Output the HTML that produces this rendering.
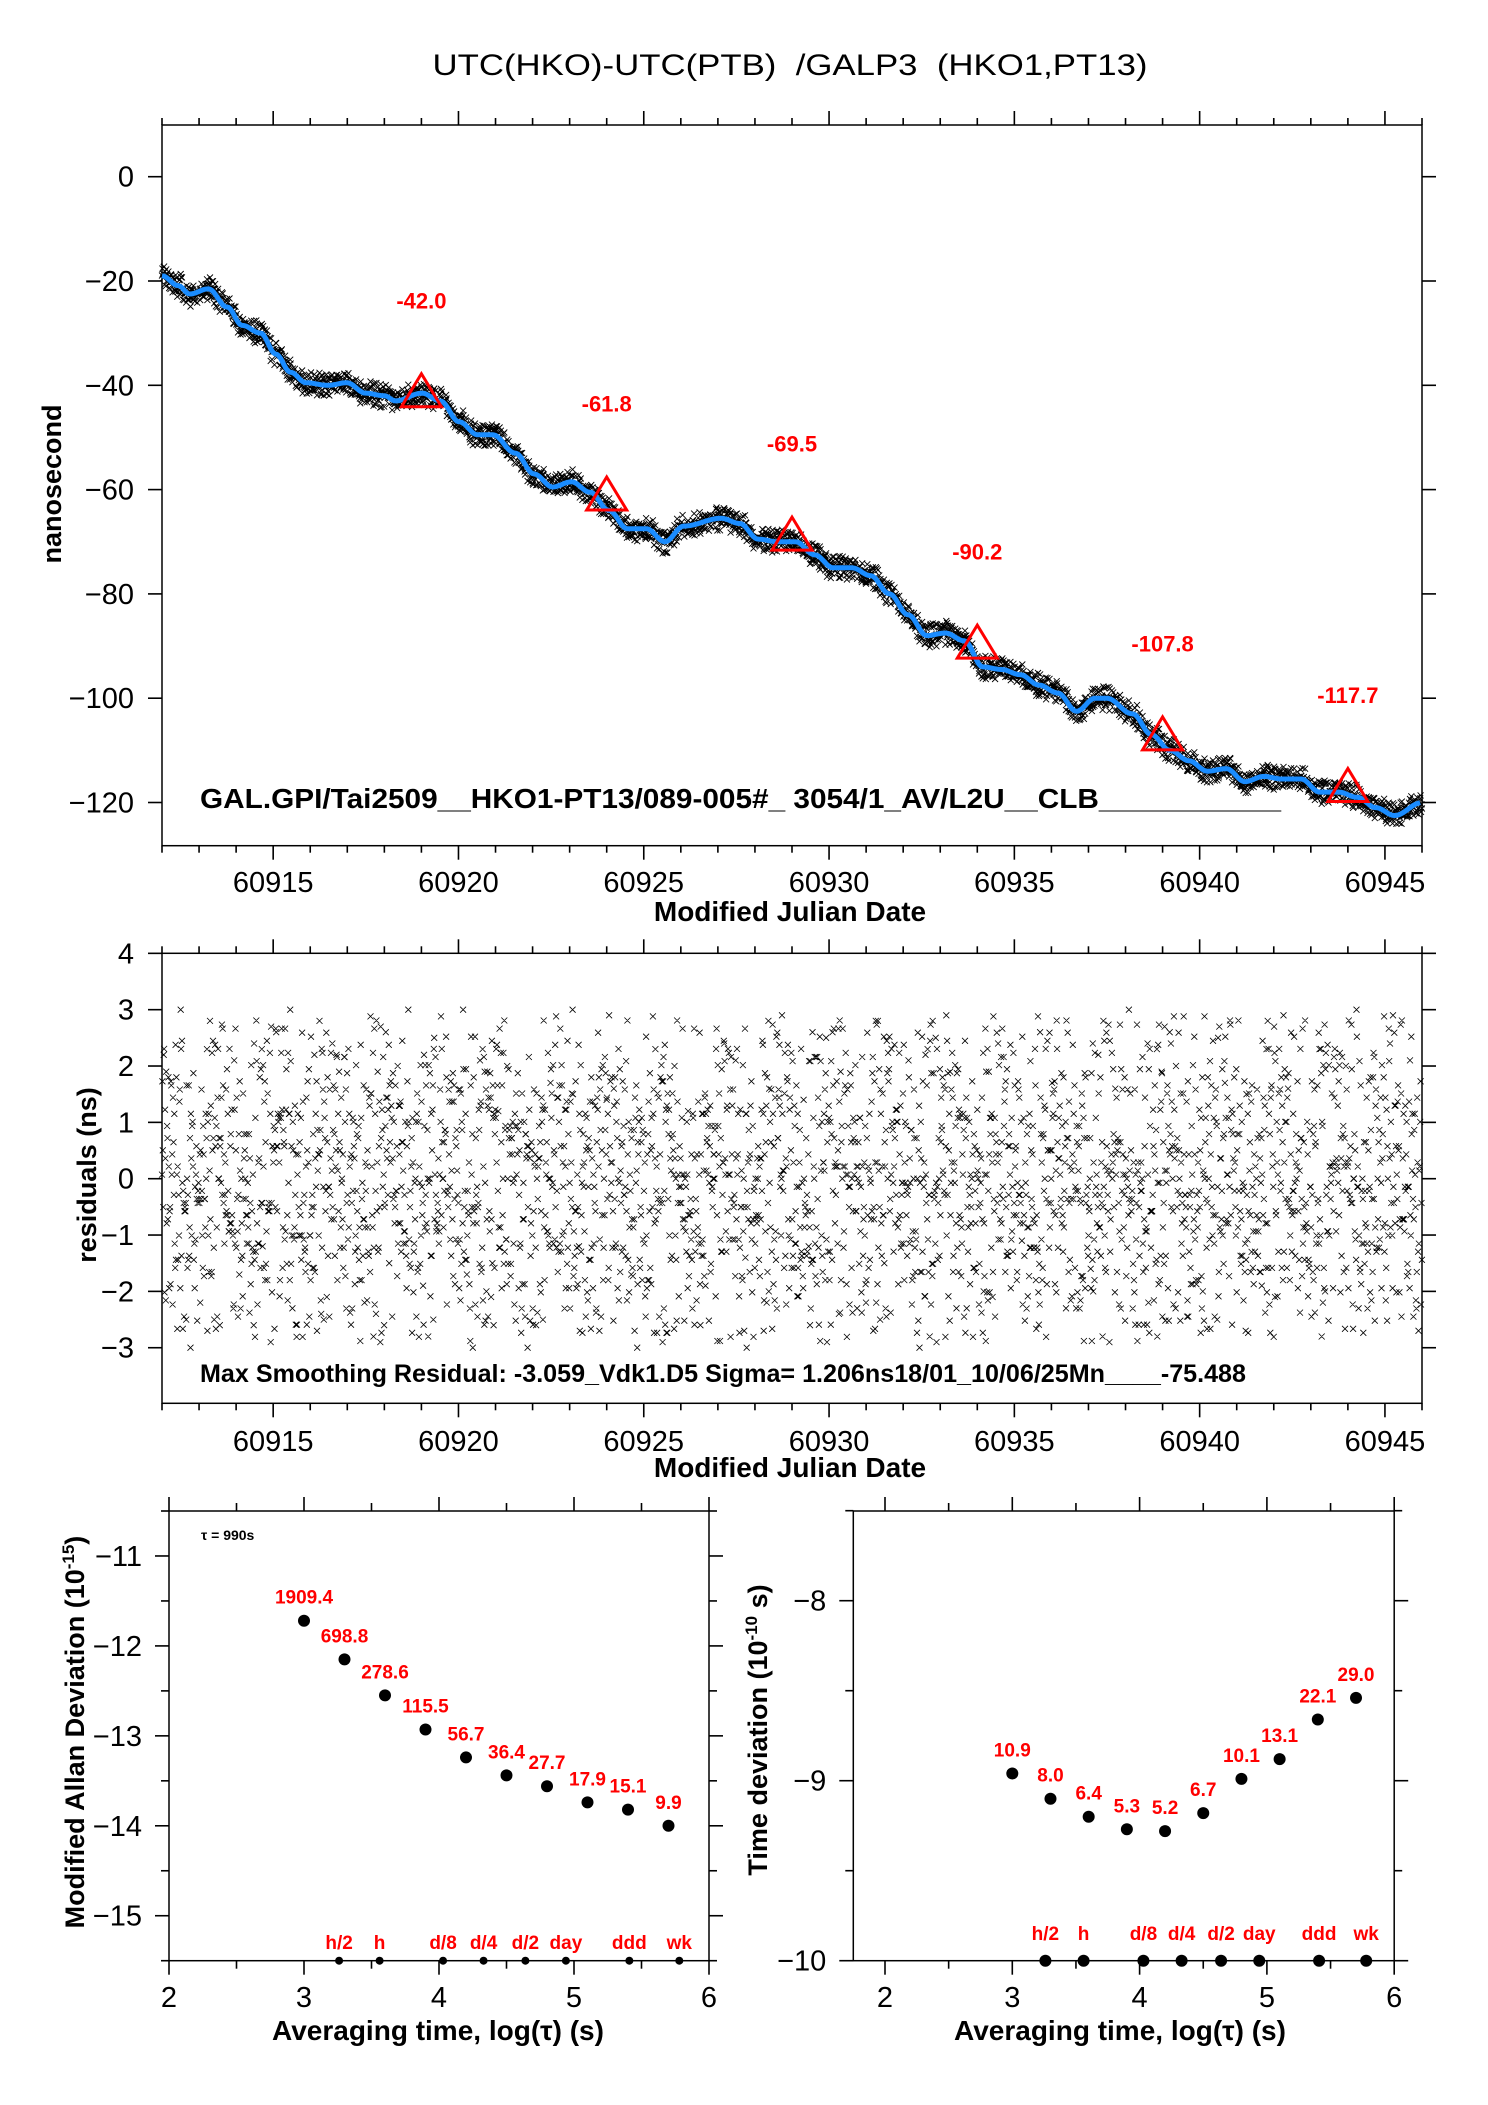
<!DOCTYPE html>
<html><head><meta charset="utf-8"><style>
html,body{margin:0;padding:0;background:#fff}
svg{display:block;font-family:"Liberation Sans",sans-serif}
</style></head><body>
<svg id="c" width="1488" height="2105" viewBox="0 0 1488 2105" xmlns="http://www.w3.org/2000/svg">
<text x="790" y="75" font-size="30" text-anchor="middle" textLength="715" lengthAdjust="spacingAndGlyphs" xml:space="preserve">UTC(HKO)-UTC(PTB)  /GALP3  (HKO1,PT13)</text>
<g id="g"></g>
</svg>
<script>
// ---- data ----
const curveMjd = [60912.0,60912.44,60912.75,60913.25,60913.76,60914.16,60914.66,60915.07,60915.47,60915.88,60916.48,60916.99,60917.49,60918.00,60918.30,60919.01,60919.51,60920.02,60920.52,60920.93,60921.53,60922.04,60922.54,60923.05,60923.55,60924.06,60924.56,60925.07,60925.57,60926.08,60927.09,60927.59,60928.09,60928.60,60929.10,60929.61,60930.11,60930.62,60931.12,60931.63,60932.13,60932.64,60933.14,60933.65,60934.15,60934.66,60935.16,60935.67,60936.17,60936.68,60937.18,60937.49,60938.19,60938.70,60939.20,60939.71,60940.21,60940.72,60941.22,60941.73,60942.23,60942.74,60943.24,60943.75,60944.25,60944.76,60945.26,60946.0];
const curveNs = [-19,-20.9,-22.5,-21.5,-25,-28.5,-30,-34,-37.5,-39.5,-40,-39.5,-41.5,-42,-43,-41.5,-43,-47,-49.5,-49.5,-53,-57,-59.5,-58.5,-60.5,-64,-67.5,-67.5,-70,-67,-65.5,-66.5,-69.5,-70,-70,-72.5,-75,-75,-76.5,-80,-84,-88,-87.5,-89,-94,-94.5,-95.5,-97.5,-99,-102.5,-100,-100,-103,-107,-110,-112,-114,-113.5,-116,-115,-115.5,-115.5,-118,-118,-119,-121,-122.5,-120];
const triMjd = [60919,60924,60929,60934,60939,60944];
const triNs = [-42.0,-61.8,-69.5,-90.2,-107.8,-117.7];
const triLabels = ["-42.0","-61.8","-69.5","-90.2","-107.8","-117.7"];
const residuals = [0.4,-1.2,2.1,-0.3,1.5,-2.2,0.8,-0.9,0.1,1.9,-1.6,0.6,-2.7,1.1,-0.4,2.6,-1.0,0.3,-1.8,1.3,0.0,-0.6,2.3,-2.4,0.9,-1.4,1.7,-0.2,0.5,-2.9,1.0,-0.8,2.8,-1.1,0.2,-1.9,1.4,-0.5,0.7,-2.1,2.0,-0.1,-1.3,1.6,-2.5,0.3,1.2,-0.7,2.4,-1.5,0.6,-0.3,-2.0,1.8,-1.0,0.4,2.9,-1.7,0.1,-2.6,1.1,-0.9,0.8,-0.2,1.5,-1.2,2.2,-2.3,0.0,1.0,-0.6,-1.4,2.5,-0.4,0.9,-2.8,1.3,-1.1,0.2,1.7,-0.8,-1.6,2.7,-0.1,0.5,-2.2,1.9,-0.5,-1.0,0.6,2.1,-1.9,0.3,-0.7,1.4,-2.4,0.8,1.2,-0.3,-1.5,3.0,-2.0,0.1,0.7,-1.3,1.6,-0.9,-2.7,2.3,-0.2,0.4,-1.8,1.1,0.9,-0.6,-2.5,2.0,-1.4,0.2,1.8,-1.1,-0.4,2.6,-2.1,0.5,-0.8,1.3,-3.0,0.6,1.5,-1.7,0.0,2.4,-0.5,-1.2,1.0,-2.3,0.3,1.9,-0.9,-1.6,2.2,-0.1,0.7,-2.6,1.2,-0.3,-1.0,2.8];
const mdevX = [3,3.3,3.6,3.9,4.2,4.5,4.8,5.1,5.4,5.7];
const mdevY = [-11.72,-12.15,-12.55,-12.93,-13.24,-13.44,-13.56,-13.74,-13.82,-14.0];
const mdevLabels = ["1909.4","698.8","278.6","115.5","56.7","36.4","27.7","17.9","15.1","9.9"];
const tdevX = [3,3.3,3.6,3.9,4.2,4.5,4.8,5.1,5.4,5.7];
const tdevY = [-8.96,-9.1,-9.2,-9.27,-9.28,-9.18,-8.99,-8.88,-8.66,-8.54];
const tdevLabels = ["10.9","8.0","6.4","5.3","5.2","6.7","10.1","13.1","22.1","29.0"];
const markX = [3.26,3.56,4.03,4.33,4.64,4.94,5.41,5.78];
const markLabels = ["h/2","h","d/8","d/4","d/2","day","ddd","wk"];
const xTicksMjd = [60915,60920,60925,60930,60935,60940,60945];
const yTicksTop = [0,-20,-40,-60,-80,-100,-120];
const yTicksRes = [4,3,2,1,0,-1,-2,-3];
const yTicksMdev = [-11,-12,-13,-14,-15];
const yTicksTdev = [-8,-9,-10];
const xTicksLog = [2,3,4,5,6];

const NS="http://www.w3.org/2000/svg";
const G=document.getElementById('g');
function mk(tag,at,parent){const e=document.createElementNS(NS,tag);for(const k in at)e.setAttribute(k,at[k]);(parent||G).appendChild(e);return e;}
function txt(s,x,y,sz,at){const e=mk('text',Object.assign({x:x,y:y,'font-size':sz},at||{}));e.textContent=s;return e;}
function minus(v){return String(v).replace('-','\u2212');}

const X1=162,X2=1422,M0=60912,M1=60946;
const mx=m=>X1+(m-M0)/(M1-M0)*(X2-X1);
const T1=125,B1=845.7; const ty=v=>176.7-v*5.215;
const T2=953.3,B2=1403.3; const ry=v=>1178.7-v*56.34;
const lx=v=>169+(v-2)*135; const LX1=169,LX2=709; const LT=1511,LB=1960.7; const ly=v=>1960.7-(v+15.5)*89.94;
const rx=v=>885+(v-2)*127.3; const RX1=853.3,RX2=1394.2; const RT=1511,RB=1960.7; const rly=v=>1960.7-(v+10)*180;

function frame(x1,y1,x2,y2,name){const r=mk('rect',{x:x1,y:y1,width:x2-x1,height:y2-y1,fill:'none',stroke:'#000','stroke-width':1.5});}
function line(x1,y1,x2,y2,w){return mk('line',{x1:x1,y1:y1,x2:x2,y2:y2,stroke:'#000','stroke-width':w||1.6});}

// ---------- top plot ----------
frame(X1,T1,X2,B1,'top-plot-frame');
for(let d=60912;d<=60946;d++){const x=mx(d);const maj=(d%5===0);const L=maj?14:7;line(x,T1,x,T1-L);line(x,B1,x,B1+L);}
xTicksMjd.forEach(d=>{const t=txt(String(d),mx(d),892,29,{'text-anchor':'middle'});});
yTicksTop.forEach(v=>{const y=ty(v);line(X1-14,y,X1,y);line(X2,y,X2+14,y);const t=txt(minus(v),X1-28,y+10,29,{'text-anchor':'end'});});
function curveAt(m){for(let i=0;i<curveMjd.length-1;i++){if(m<=curveMjd[i+1]){const f=(m-curveMjd[i])/(curveMjd[i+1]-curveMjd[i]);const a=curveNs[i],b=curveNs[i+1];const s=(1-Math.cos(Math.PI*f))/2;return a+(b-a)*s;}}return curveNs[curveNs.length-1];}
const step=990/86400; let p1='',p2=''; const nR=residuals.length;
let i=0;
for(let m=M0;m<=M1;m+=step,i++){
  const cyc=Math.floor(i/nR);
  let r=0.72*residuals[(i*37)%nR]+0.72*residuals[(i*53+cyc*17+3)%nR];
  if(Math.abs(r)>2.9) r=residuals[(i*53+cyc*17+3)%nR];
  const x=mx(m);
  const yt=ty(curveAt(m)+r*0.8);
  p1+=`M${(x-3).toFixed(1)} ${(yt-3).toFixed(1)}l6 6M${(x-3).toFixed(1)} ${(yt+3).toFixed(1)}l6 -6`;
  const yr=ry(r);
  p2+=`M${(x-3).toFixed(1)} ${(yr-3).toFixed(1)}l6 6M${(x-3).toFixed(1)} ${(yr+3).toFixed(1)}l6 -6`;
}
const sc1=mk('path',{d:p1,stroke:'#000','stroke-width':0.9,fill:'none'});


let cd='';for(let m=M0;m<=M1;m+=0.05){cd+=(cd?'L':'M')+mx(m).toFixed(1)+' '+ty(curveAt(m)).toFixed(1);}
const cv=mk('path',{d:cd,stroke:'#1a8cff','stroke-width':5,fill:'none','stroke-linejoin':'round'});


triMjd.forEach((m,k)=>{const x=mx(m),y=ty(triNs[k]);
  const t=mk('path',{d:`M${x} ${y-22}L${x+20} ${y+11}L${x-20} ${y+11}Z`,fill:'none',stroke:'#ff0000','stroke-width':3});
  
  const l=txt(triLabels[k],x,ty(triNs[k]+18.3)+8,22,{'text-anchor':'middle','font-weight':'bold',fill:'#ff0000'});
  });
let t0=txt('GAL.GPI/Tai2509__HKO1-PT13/089-005#_  3054/1_AV/L2U__CLB___________',200,808,28,{'font-weight':'bold',textLength:1081,lengthAdjust:'spacingAndGlyphs','xml:space':'preserve'});

t0=txt('nanosecond',0,0,27,{'font-weight':'bold','text-anchor':'middle',transform:'translate(61,484) rotate(-90)'});

t0=txt('Modified Julian Date',790,921,28,{'font-weight':'bold','text-anchor':'middle'});


// ---------- residual plot ----------
frame(X1,T2,X2,B2,'residual-plot-frame');
for(let d=60912;d<=60946;d++){const x=mx(d);const maj=(d%5===0);const L=maj?14:7;line(x,T2,x,T2-L);line(x,B2,x,B2+L);}
xTicksMjd.forEach(d=>{const t=txt(String(d),mx(d),1451,29,{'text-anchor':'middle'});});
yTicksRes.forEach(v=>{const y=ry(v);line(X1-14,y,X1,y);line(X2,y,X2+14,y);const t=txt(minus(v),X1-28,y+10,29,{'text-anchor':'end'});});
const sc2=mk('path',{d:p2,stroke:'#000','stroke-width':0.8,fill:'none'});


t0=txt('Max Smoothing Residual: -3.059_Vdk1.D5  Sigma= 1.206ns18/01_10/06/25Mn____-75.488',200,1382,25,{'font-weight':'bold',textLength:1046,lengthAdjust:'spacingAndGlyphs','xml:space':'preserve'});

t0=txt('residuals (ns)',0,0,27,{'font-weight':'bold','text-anchor':'middle',transform:'translate(96,1175) rotate(-90)'});

t0=txt('Modified Julian Date',790,1477,28,{'font-weight':'bold','text-anchor':'middle'});


// ---------- MDEV plot ----------
frame(LX1,LT,LX2,LB,'mdev-plot-frame');
for(let v=2;v<=6.001;v+=0.5){const x=lx(v);const L=(v%1===0?14:8);line(x,LT,x,LT-L);line(x,LB,x,LB+L);}
for(let v=-10.5;v>=-15.5;v-=0.5){const y=ly(v);const L=(v%1===0)?14:8;line(LX1-L,y,LX1,y);line(LX2,y,LX2+L,y);}
xTicksLog.forEach(v=>{const t=txt(String(v),lx(v),2007,29,{'text-anchor':'middle'});});
yTicksMdev.forEach(v=>{const t=txt(minus(v),LX1-27,ly(v)+10,29,{'text-anchor':'end'});});
mdevX.forEach((v,k)=>{const c=mk('circle',{cx:lx(v),cy:ly(mdevY[k]),r:6,fill:'#000'});
  const l=txt(mdevLabels[k],lx(v),ly(mdevY[k])-17,19,{'text-anchor':'middle','font-weight':'bold',fill:'#ff0000'});});
markX.forEach((v,k)=>{const c=mk('circle',{cx:lx(v),cy:ly(-15.5),r:4,fill:'#000'});
  const l=txt(markLabels[k],lx(v),1949,19,{'text-anchor':'middle','font-weight':'bold',fill:'#ff0000'});});
t0=txt('\u03c4 = 990s',201,1540,14,{'font-weight':'bold'});

t0=mk('text',{x:0,y:0,'font-size':27,'font-weight':'bold','text-anchor':'middle',transform:'translate(84,1732) rotate(-90)'});
t0.innerHTML='Modified Allan Deviation (10<tspan dy="-10" font-size="17">-15</tspan><tspan dy="10">)</tspan>';

t0=txt('Averaging time, log(\u03c4) (s)',438,2040,28,{'font-weight':'bold','text-anchor':'middle'});


// ---------- TDEV plot ----------
frame(RX1,RT,RX2,RB,'tdev-plot-frame');
for(let v=1.5;v<=6.001;v+=0.5){const x=rx(v);if(x<RX1)continue;const L=(v%1===0?14:8);line(x,RT,x,RT-L);line(x,RB,x,RB+L);}
for(let v=-7.5;v>=-10;v-=0.5){const y=rly(v);const L=(v%1===0)?14:8;line(RX1-L,y,RX1,y);line(RX2,y,RX2+L,y);}
xTicksLog.forEach(v=>{const t=txt(String(v),rx(v),2007,29,{'text-anchor':'middle'});});
yTicksTdev.forEach(v=>{const t=txt(minus(v),RX1-27,rly(v)+10,29,{'text-anchor':'end'});});
tdevX.forEach((v,k)=>{const c=mk('circle',{cx:rx(v),cy:rly(tdevY[k]),r:6,fill:'#000'});
  const l=txt(tdevLabels[k],rx(v),rly(tdevY[k])-17,19,{'text-anchor':'middle','font-weight':'bold',fill:'#ff0000'});});
markX.forEach((v,k)=>{const c=mk('circle',{cx:rx(v),cy:rly(-10),r:6,fill:'#000'});
  const l=txt(markLabels[k],rx(v),1940,19,{'text-anchor':'middle','font-weight':'bold',fill:'#ff0000'});});
t0=mk('text',{x:0,y:0,'font-size':27,'font-weight':'bold','text-anchor':'middle',transform:'translate(767,1730) rotate(-90)'});
t0.innerHTML='Time deviation (10<tspan dy="-10" font-size="17">-10</tspan><tspan dy="10"> s)</tspan>';

t0=txt('Averaging time, log(\u03c4) (s)',1120,2040,28,{'font-weight':'bold','text-anchor':'middle'});

</script>
</body></html>
